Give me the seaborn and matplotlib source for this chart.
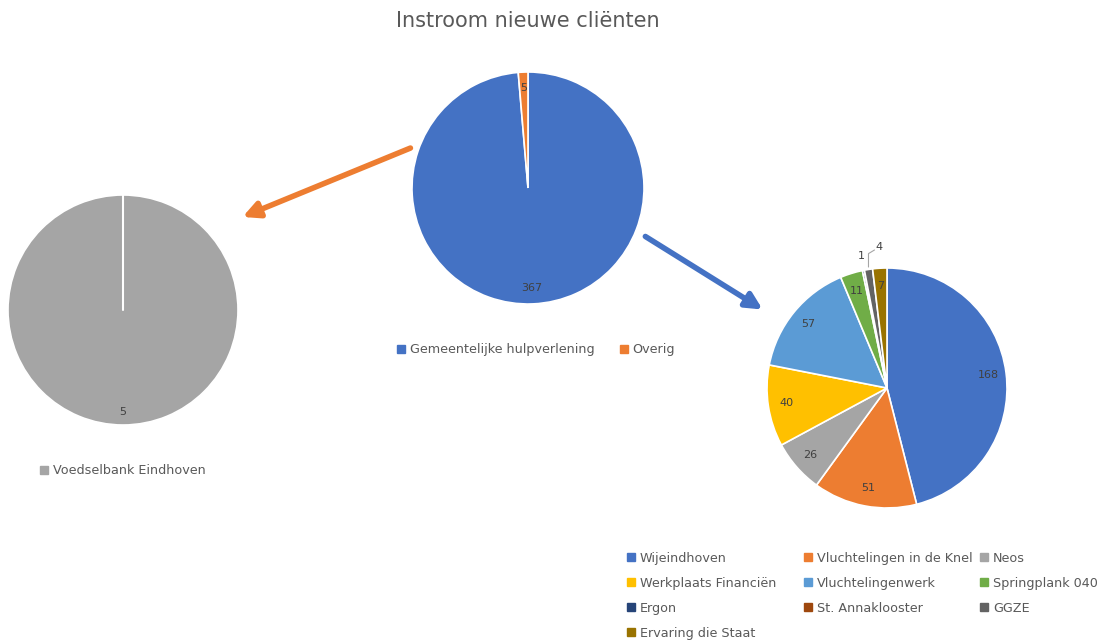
import matplotlib
matplotlib.use("Agg")
import numpy as np
import matplotlib.pyplot as plt
from matplotlib.legend import Legend
from matplotlib.patches import Patch, FancyArrowPatch
import seaborn as sns

# ------------ data ------------
title = "Instroom nieuwe cliënten"

main_labels = ["Gemeentelijke hulpverlening", "Overig"]
main_values = [367, 5]

overig_labels = ["Voedselbank Eindhoven"]
overig_values = [5]

gem_labels = ["Wijeindhoven", "Vluchtelingen in de Knel", "Neos", "Werkplaats Financiën",
              "Vluchtelingenwerk", "Springplank 040", "Ergon", "St. Annaklooster",
              "GGZE", "Ervaring die Staat"]
gem_values = [168, 51, 26, 40, 57, 11, 1, 0, 4, 7]

office = sns.color_palette(["#4472C4", "#ED7D31", "#A5A5A5", "#FFC000", "#5B9BD5",
                            "#70AD47", "#264478", "#9E480E", "#636363", "#997300"])

sns.set_theme(style="white")
plt.rcParams["font.family"] = ["DejaVu Sans"]

W, H = 1103, 641
fig = plt.figure(figsize=(W / 100, H / 100), dpi=100)
TXT = "#595959"
LBL = "#404040"
LEG = dict(frameon=False, fontsize=9.2, handlelength=0.6, handleheight=0.6,
           handletextpad=0.4, labelcolor=TXT)


def pie_axes(cx, cy, r):
    # axes square in pixels, centred on (cx, cy) measured from top-left
    return fig.add_axes([(cx - r) / W, 1 - (cy + r) / H, 2 * r / W, 2 * r / H])


def draw_pie(ax, values, colors, dist, min_label=5):
    wedges, _ = ax.pie(values, colors=colors, startangle=90, counterclock=False,
                       wedgeprops=dict(edgecolor="white", linewidth=1.2))
    ax.set_xlim(-1, 1)
    ax.set_ylim(-1, 1)
    ax.axis("off")
    for w, v in zip(wedges, values):
        if v < min_label:
            continue
        ang = np.deg2rad((w.theta1 + w.theta2) / 2)
        ax.text(dist * np.cos(ang), dist * np.sin(ang), str(v), ha="center",
                va="center", fontsize=8, color=LBL)
    return wedges


# middle pie
ax_m = pie_axes(528, 188, 116)
draw_pie(ax_m, main_values, office[:2], 0.86, min_label=1)
ax_m.legend([Patch(color=c) for c in office[:2]], main_labels, loc="upper center",
            bbox_to_anchor=(0.535, -0.12), ncol=2, columnspacing=2.0, **LEG)

# left pie
ax_l = pie_axes(123, 310, 115)
draw_pie(ax_l, overig_values, [office[2]], 0.89)
ax_l.plot([0, 0], [0, 1], color="white", lw=1.5)
ax_l.legend([Patch(color=office[2])], overig_labels, loc="upper center",
            bbox_to_anchor=(0.5, -0.12), **LEG)

# right pie
ax_r = pie_axes(887, 388, 120)
wedges = draw_pie(ax_r, gem_values, list(office), 0.85)

# small slices: labels outside, GGZE with a leader line
w = wedges[8]
ang = np.deg2rad((w.theta1 + w.theta2) / 2)
x0, y0 = np.cos(ang), np.sin(ang)
ax_r.plot([x0, x0, x0 + 0.05], [y0 + 0.02, 1.12, 1.15], color="#A5A5A5", lw=0.8,
          clip_on=False)
ax_r.text(x0 + 0.06, 1.175, str(gem_values[8]), ha="left", va="center",
          fontsize=8, color=LBL, clip_on=False)
w = wedges[6]
ang = np.deg2rad((w.theta1 + w.theta2) / 2)
ax_r.text(np.cos(ang) - 0.02, 1.10, str(gem_values[6]), ha="center", va="center",
          fontsize=8, color=LBL, clip_on=False)

# legend: three fixed-width columns, filled row by row
col_x = [-0.604, 0.133, 0.867]
for c in range(3):
    idx = list(range(c, len(gem_labels), 3))
    leg = Legend(ax_r, [Patch(color=office[k]) for k in idx], [gem_labels[k] for k in idx],
                 loc="upper left", bbox_to_anchor=(col_x[c], -0.16),
                 labelspacing=0.95, borderaxespad=0, **LEG)
    ax_r.add_artist(leg)

# arrows
def arrow(x1, y1, x2, y2, color):
    fig.patches.append(FancyArrowPatch((x1 / W, 1 - y1 / H), (x2 / W, 1 - y2 / H),
                                       transform=fig.transFigure, arrowstyle="-|>",
                                       mutation_scale=24, lw=4, color=color))

arrow(413, 147, 240, 218, office[1])
arrow(643, 235, 765, 311, office[0])

fig.text(528 / W, 1 - 21 / H, title, ha="center", va="center", fontsize=15, color=TXT)

fig.savefig("out.png", dpi=100)
